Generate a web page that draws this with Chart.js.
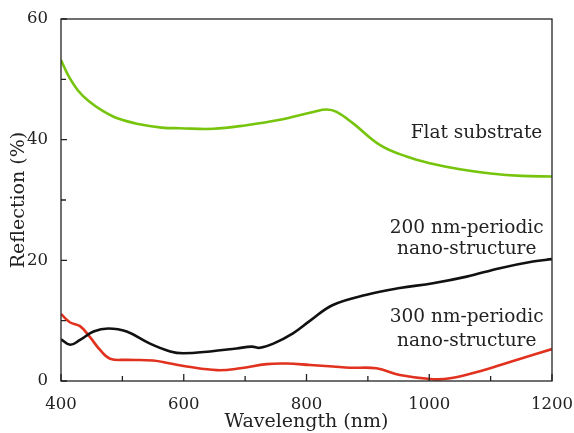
<!DOCTYPE html>
<html>
<head>
<meta charset="utf-8">
<script src="https://cdn.jsdelivr.net/npm/chart.js@4"></script>
<style>
  html, body { margin: 0; padding: 0; background: #fff; }
  #wrap { width: 574px; height: 433px; }
</style>
</head>
<body>
<div id="wrap"><canvas id="chart" width="574" height="433"></canvas></div>
<script>
// Flat substrate
const flatWl = [400, 412, 428, 445, 466, 493, 526, 564, 594, 648, 702, 757, 811, 833, 849, 876, 920, 963, 1001, 1050, 1100, 1150, 1200];
const flatR  = [53.2, 50.6, 48.1, 46.4, 44.9, 43.5, 42.6, 42.0, 41.9, 41.8, 42.4, 43.3, 44.6, 45.0, 44.6, 42.7, 39.1, 37.2, 36.1, 35.1, 34.4, 34.0, 33.9];

// 200 nm-periodic
const p200Wl = [400, 415, 431, 453, 477, 507, 545, 578, 599, 643, 686, 711, 724, 746, 778, 806, 843, 898, 952, 1006, 1061, 1115, 1169, 1200];
const p200R  = [6.9, 6.0, 6.8, 8.2, 8.7, 8.2, 6.2, 4.9, 4.6, 4.9, 5.4, 5.7, 5.5, 6.2, 7.9, 10.0, 12.6, 14.3, 15.4, 16.2, 17.3, 18.7, 19.8, 20.2];

// 300 nm-periodic
const p300Wl = [400, 415, 431, 447, 464, 480, 507, 550, 578, 605, 654, 692, 735, 767, 806, 843, 871, 914, 952, 1006, 1034, 1088, 1142, 1200];
const p300R  = [11.1, 9.7, 9.1, 7.3, 5.1, 3.7, 3.5, 3.4, 2.9, 2.4, 1.8, 2.1, 2.8, 2.9, 2.65, 2.4, 2.2, 2.1, 1.0, 0.3, 0.45, 1.8, 3.5, 5.3];

const xTickLabels = [400, 600, 800, 1000, 1200];
const yTickLabels = [0, 20, 40, 60];

// annotations: [text, x (nm), y (%)]
const notes = [
  ['Flat substrate', 1077, 41.1],
  ['200 nm-periodic', 1061, 25.4],
  ['nano-structure', 1061, 21.9],
  ['300 nm-periodic', 1061, 10.6],
  ['nano-structure', 1061, 6.6]
];

const FONT = "'DejaVu Serif', serif";

function pts(xs, ys) {
  return xs.map((x, i) => ({ x: x, y: ys[i] }));
}

function line(label, xs, ys, color) {
  return {
    label,
    data: pts(xs, ys),
    borderColor: color,
    borderWidth: 2.6,
    pointRadius: 0,
    fill: false,
    tension: 0.4
  };
}

const frame = {
  id: 'frame',
  afterDraw(chart) {
    const ctx = chart.ctx;
    const a = chart.chartArea;
    const xs = chart.scales.x, ys = chart.scales.y;
    ctx.save();
    ctx.strokeStyle = '#222';
    ctx.lineWidth = 1.3;
    ctx.strokeRect(a.left, a.top, a.right - a.left, a.bottom - a.top);
    // inward ticks
    ctx.beginPath();
    xs.ticks.forEach(t => {
      const px = xs.getPixelForValue(t.value);
      const len = xTickLabels.includes(t.value) ? 7 : 5;
      ctx.moveTo(px, a.bottom);
      ctx.lineTo(px, a.bottom - len);
    });
    ys.ticks.forEach(t => {
      const py = ys.getPixelForValue(t.value);
      const len = yTickLabels.includes(t.value) ? 6 : 5;
      ctx.moveTo(a.left, py);
      ctx.lineTo(a.left + len, py);
    });
    ctx.stroke();
    // text notes
    ctx.fillStyle = '#222';
    ctx.font = '18.5px ' + FONT;
    ctx.textAlign = 'center';
    ctx.textBaseline = 'middle';
    notes.forEach(n => {
      ctx.fillText(n[0], xs.getPixelForValue(n[1]), ys.getPixelForValue(n[2]));
    });
    ctx.restore();
  }
};

new Chart(document.getElementById('chart'), {
  type: 'line',
  data: {
    datasets: [
      line('Flat substrate', flatWl, flatR, '#76c40c'),
      line('200 nm-periodic nano-structure', p200Wl, p200R, '#111111'),
      line('300 nm-periodic nano-structure', p300Wl, p300R, '#e0321e')
    ]
  },
  options: {
    responsive: false,
    animation: false,
    layout: { padding: { top: 19, right: 22, left: 0, bottom: 0 } },
    plugins: { legend: { display: false }, tooltip: { enabled: false } },
    scales: {
      x: {
        type: 'linear',
        min: 400,
        max: 1200,
        grid: { display: false },
        border: { display: false },
        ticks: {
          stepSize: 100,
          padding: 6,
          color: '#222',
          font: { family: FONT, size: 16.5 },
          maxRotation: 0,
          callback: v => xTickLabels.includes(v) ? String(v) : ''
        },
        title: {
          display: true,
          text: 'Wavelength (nm)',
          color: '#222',
          font: { family: FONT, size: 19 },
          padding: { top: 0, bottom: 0 }
        },
        afterFit: s => { s.height = 52; s.paddingLeft = 0; s.paddingRight = 0; }
      },
      y: {
        min: 0,
        max: 60,
        grid: { display: false },
        border: { display: false },
        ticks: {
          stepSize: 10,
          padding: 5,
          color: '#222',
          font: { family: FONT, size: 16.5 },
          callback: v => yTickLabels.includes(v) ? String(v) : ''
        },
        title: {
          display: true,
          text: 'Reflection (%)',
          color: '#222',
          font: { family: FONT, size: 19 },
          padding: { top: 8, bottom: 0 }
        },
        afterFit: s => { s.width = 61; s.paddingTop = 0; s.paddingBottom = 0; }
      }
    }
  },
  plugins: [frame]
});
</script>
</body>
</html>
